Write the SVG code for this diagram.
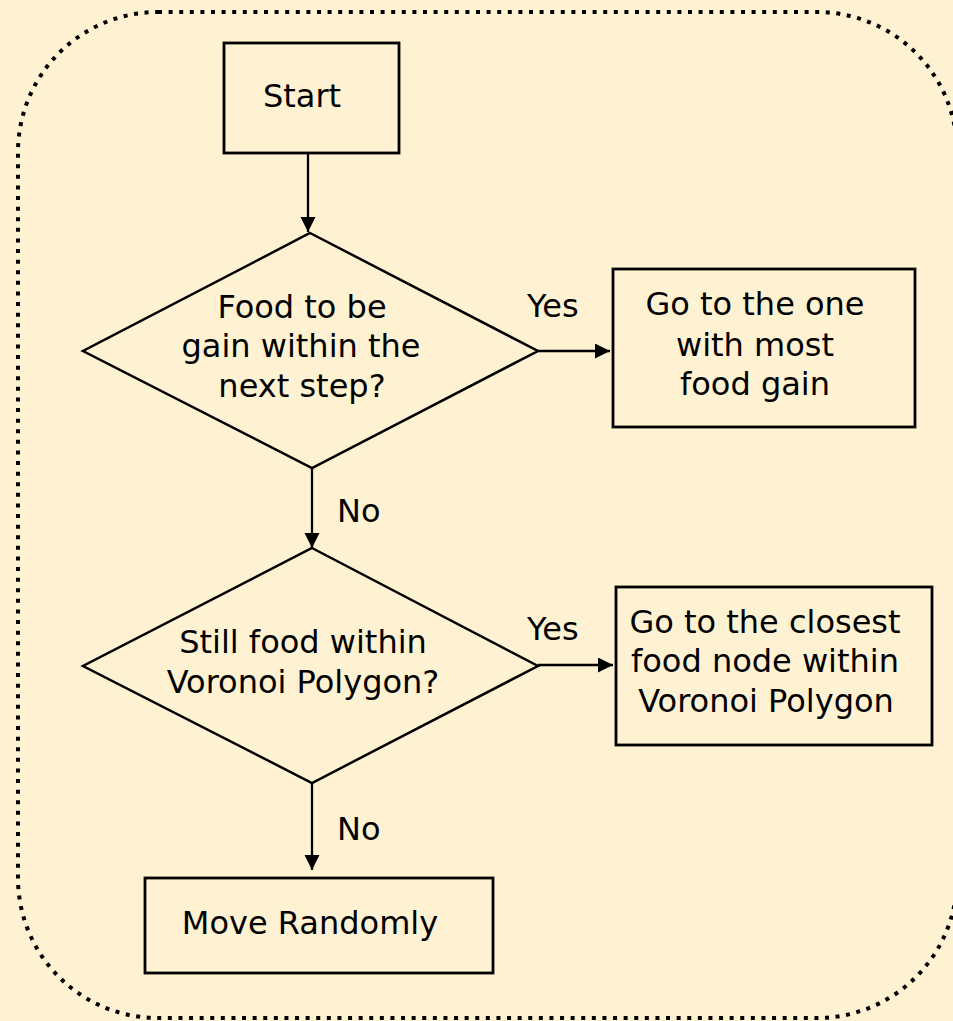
<svg xmlns="http://www.w3.org/2000/svg" width="953" height="1021" viewBox="0 0 953 1021">
  <defs>
    <marker id="arrow" markerUnits="userSpaceOnUse" markerWidth="16" markerHeight="16" refX="15" refY="7.5" orient="auto">
      <path d="M0,0 L15,7.5 L0,15 z" fill="#000"/>
    </marker>
    <style>
      .box { fill: none; stroke: #000; stroke-width: 2.8; }
      .dec { fill: none; stroke: #000; stroke-width: 2.5; stroke-linejoin: miter; }
      .link { fill: none; stroke: #000; stroke-width: 2.3; marker-end: url(#arrow); }
      text { font-family: "DejaVu Sans", "Liberation Sans", sans-serif; font-size: 32px; fill: #000; }
      .c { text-anchor: middle; }
    </style>
  </defs>

  <!-- page background -->
  <rect x="0" y="0" width="953" height="1021" fill="#FFF2D2"/>

  <!-- dotted rounded frame -->
  <rect id="frame" x="18" y="12" width="939" height="1006" rx="140" ry="140" fill="none" stroke="#000" stroke-width="4" stroke-dasharray="4 6.6"/>

  <g id="start">
    <rect class="box" x="224" y="43" width="175" height="110"/>
    <text class="c" x="302" y="107">Start</text>
  </g>

  <g id="decision-gain">
    <polygon class="dec" points="310,233 538,351 312,468 83,351"/>
    <text class="c" x="302" y="318">Food to be</text>
    <text class="c" x="301" y="357">gain within the</text>
    <text class="c" x="302" y="397">next step?</text>
  </g>

  <g id="go-most-gain">
    <rect class="box" x="613" y="269" width="302" height="158"/>
    <text class="c" x="755" y="315">Go to the one</text>
    <text class="c" x="755" y="356">with most</text>
    <text class="c" x="755" y="395">food gain</text>
  </g>

  <g id="decision-voronoi">
    <polygon class="dec" points="312,548 538,666 312,783 83,666"/>
    <text class="c" x="303" y="653">Still food within</text>
    <text class="c" x="303" y="693">Voronoi Polygon?</text>
  </g>

  <g id="go-closest">
    <rect class="box" x="616" y="587" width="316" height="158"/>
    <text class="c" x="765" y="633">Go to the closest</text>
    <text class="c" x="765" y="672">food node within</text>
    <text class="c" x="766" y="712">Voronoi Polygon</text>
  </g>

  <g id="move-randomly">
    <rect class="box" x="145" y="878" width="348" height="95"/>
    <text class="c" x="310" y="934">Move Randomly</text>
  </g>

  <g id="connectors">
    <line class="link" x1="308" y1="153" x2="308" y2="232"/>
    <line class="link" x1="538" y1="351" x2="610" y2="351"/>
    <line class="link" x1="312" y1="468" x2="312" y2="548"/>
    <line class="link" x1="538" y1="665" x2="613" y2="665"/>
    <line class="link" x1="312" y1="783" x2="312" y2="870"/>
    <text x="527" y="317" font-size="33">Yes</text>
    <text x="527" y="640" font-size="33">Yes</text>
    <text x="337" y="522" font-size="33">No</text>
    <text x="337" y="840" font-size="33">No</text>
  </g>
</svg>
